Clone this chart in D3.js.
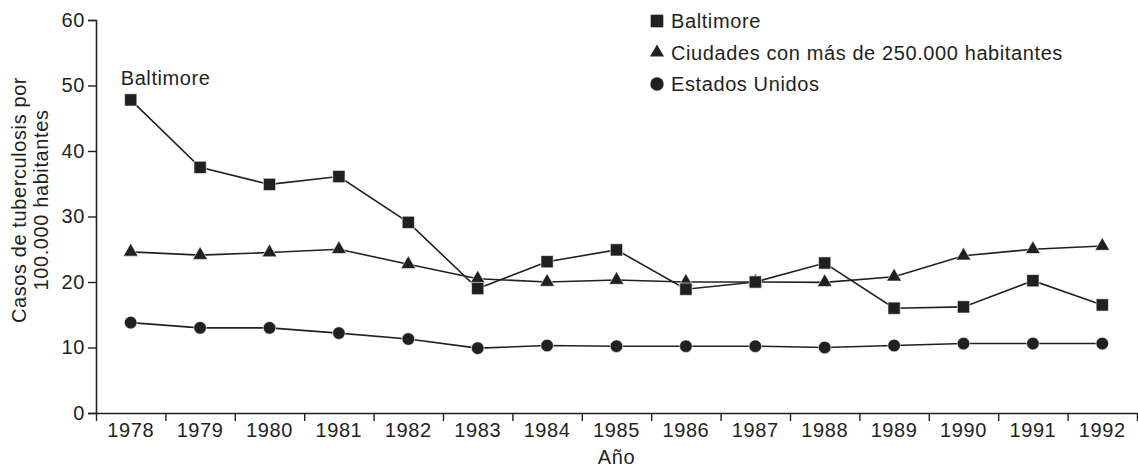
<!DOCTYPE html>
<html>
<head>
<meta charset="utf-8">
<script src="https://cdn.jsdelivr.net/npm/d3@7"></script>
<style>
  body { margin: 0; background: #fff; }
  text { font-family: "Liberation Sans", Arial, sans-serif; fill: #231f20; letter-spacing: 0.6px; }
</style>
</head>
<body>
<script>
const years = [1978, 1979, 1980, 1981, 1982, 1983, 1984, 1985, 1986, 1987, 1988, 1989, 1990, 1991, 1992];
const baltimore = [47.8, 37.5, 34.9, 36.1, 29.1, 19.0, 23.1, 24.9, 18.9, 20.0, 22.9, 16.0, 16.2, 20.2, 16.5];
const ciudades = [24.6, 24.1, 24.5, 25.0, 22.7, 20.5, 20.0, 20.3, 20.0, 20.0, 19.95, 20.8, 24.0, 25.0, 25.5];
const estadosUnidos = [13.8, 13.0, 13.0, 12.2, 11.3, 9.9, 10.3, 10.2, 10.2, 10.2, 10.0, 10.3, 10.6, 10.6, 10.6];
const yTicks = [0, 10, 20, 30, 40, 50, 60];
const seriesNames = ["Baltimore", "Ciudades con más de 250.000 habitantes", "Estados Unidos"];

const ink = "#231f20";
const width = 1138, height = 470;
const margin = { top: 20, right: 1, bottom: 57, left: 96 };

const svg = d3.select("body").append("svg")
    .attr("width", width)
    .attr("height", height);

const x = d3.scaleBand()
    .domain(years)
    .range([margin.left, width - margin.right])
    .padding(0);

// edges of the year bands, for the tick marks
const xEdge = d3.scaleLinear()
    .domain([0, years.length])
    .range([margin.left, width - margin.right]);

const y = d3.scaleLinear()
    .domain([0, 60])
    .range([height - margin.bottom, margin.top]);

const cx = d => x(d) + x.bandwidth() / 2;

// y axis
const yA = svg.append("g")
    .attr("transform", "translate(" + margin.left + ",0)")
    .call(d3.axisLeft(y).tickValues(yTicks).tickSize(8).tickPadding(3));
yA.select(".domain").attr("stroke", ink).attr("stroke-width", 1.6);
yA.selectAll(".tick line").attr("stroke", ink).attr("stroke-width", 1.4);
yA.selectAll("text").style("font-size", "20px").attr("fill", ink);

// x axis: ticks at band edges, labels at band centres
const xA = svg.append("g")
    .attr("transform", "translate(0," + y(0) + ")")
    .call(d3.axisBottom(xEdge).tickValues(d3.range(years.length + 1)).tickSize(8).tickSizeOuter(0).tickFormat(""));
xA.select(".domain").attr("stroke", ink).attr("stroke-width", 1.6);
xA.selectAll(".tick line").attr("stroke", ink).attr("stroke-width", 1.4);

const xL = svg.append("g")
    .attr("transform", "translate(0," + y(0) + ")")
    .call(d3.axisBottom(x).tickSize(0).tickPadding(10));
xL.select(".domain").remove();
xL.selectAll("text").style("font-size", "20px").attr("fill", ink);

// axis titles
svg.append("text")
    .attr("x", x(1985) + x.bandwidth() / 2)
    .attr("y", 464)
    .attr("text-anchor", "middle")
    .style("font-size", "20px")
    .text("Año");

const yTitle = svg.append("text")
    .attr("transform", "translate(26,200) rotate(-90)")
    .attr("text-anchor", "middle")
    .style("font-size", "20px");
yTitle.append("tspan").attr("x", 0).attr("y", 0).text("Casos de tuberculosis por");
yTitle.append("tspan").attr("x", 0).attr("y", 22).text("100.000 habitantes");

// lines
const line = d3.line()
    .x((d, i) => cx(years[i]))
    .y(d => y(d));

[baltimore, ciudades, estadosUnidos].forEach(s => {
    svg.append("path")
        .datum(s)
        .attr("d", line)
        .attr("fill", "none")
        .attr("stroke", ink)
        .attr("stroke-width", 1.6);
});

const symSquare = d3.symbol().type(d3.symbolSquare).size(150);
const symTri = d3.symbol().type(d3.symbolTriangle).size(95);
const symCircle = d3.symbol().type(d3.symbolCircle).size(125);

function drawMarks(data, sym) {
    svg.append("g").selectAll("path")
        .data(data)
        .join("path")
        .attr("transform", (d, i) => "translate(" + cx(years[i]) + "," + y(d) + ")")
        .attr("d", sym)
        .attr("fill", ink)
        .attr("stroke", "#fff")
        .attr("stroke-width", 0.6);
}
drawMarks(estadosUnidos, symCircle);
drawMarks(ciudades, symTri);
drawMarks(baltimore, symSquare);

// annotation
svg.append("text")
    .attr("x", cx(1978) - 10)
    .attr("y", 85)
    .style("font-size", "20px")
    .text("Baltimore");

// legend
const legSyms = [
    d3.symbol().type(d3.symbolSquare).size(160),
    d3.symbol().type(d3.symbolTriangle).size(85),
    d3.symbol().type(d3.symbolCircle).size(140)
];
const leg = svg.append("g").attr("transform", "translate(657,0)");
seriesNames.forEach((name, i) => {
    const ly = 21 + i * 31.5;
    leg.append("path")
        .attr("transform", "translate(0," + ly + ")")
        .attr("d", legSyms[i])
        .attr("fill", ink);
    leg.append("text")
        .attr("x", 14)
        .attr("y", ly + 7)
        .style("font-size", "20px")
        .text(name);
});
</script>
</body>
</html>
